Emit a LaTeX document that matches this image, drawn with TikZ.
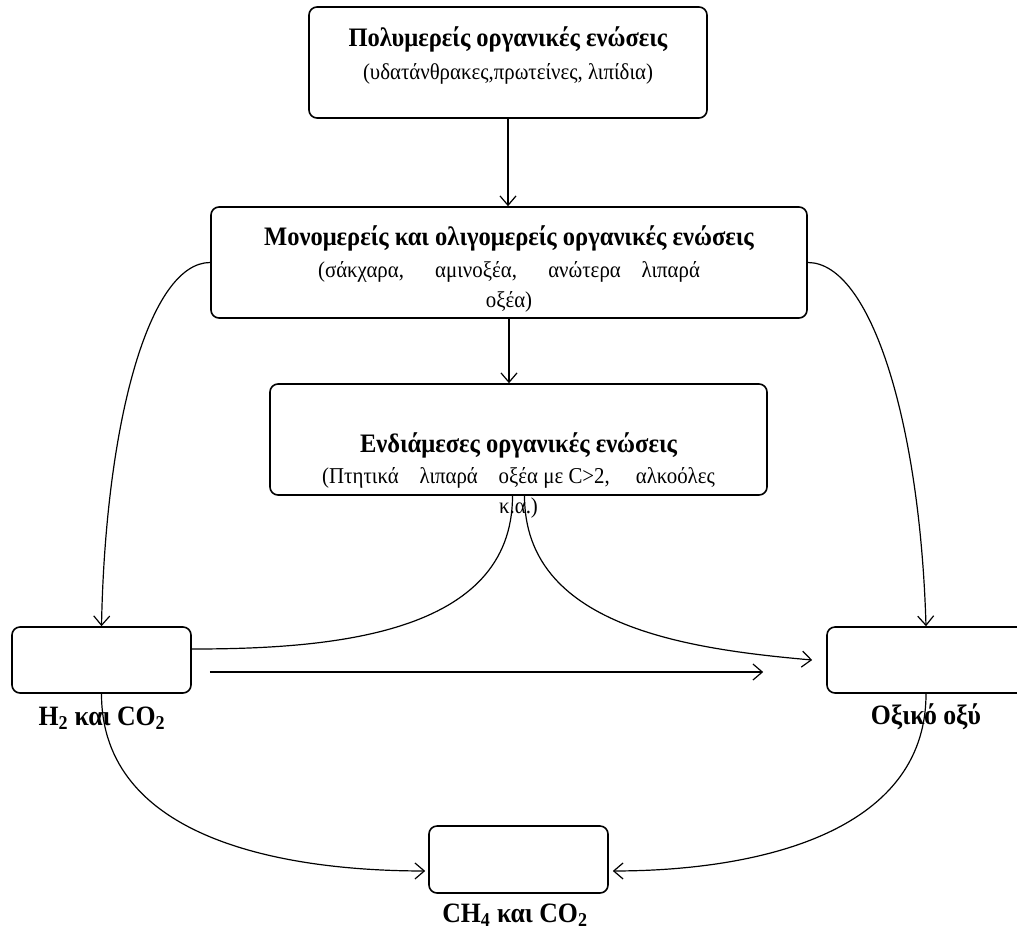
\documentclass[tikz,border=0pt]{standalone}
\usepackage{fontspec}
\setmainfont{Liberation Serif}[FakeStretch=0.92]
\usetikzlibrary{arrows.meta}

\begin{document}
\begin{tikzpicture}[x=0.75pt,y=-0.75pt,
	box/.style={draw=black,rounded corners=6pt,line width=1.2pt},
	tip/.style={-{Straight Barb[length=7pt,width=12pt,line width=0.9pt]}},
	title/.style={font=\fontsize{20}{24}\selectfont\bfseries},
	sub/.style={font=\fontsize{17}{22.5}\selectfont,align=center},
	lbl/.style={font=\fontsize{21}{24}\selectfont\bfseries}]
					\tikzstyle{every node}+=[inner sep=0pt]
					\useasboundingbox (0,0) rectangle (1017,929);
					\node [box,minimum width=298.5pt,minimum height=83.25pt] (poly) at (508,62.5) {};
					\node [title] (polyT) at (508,39) {Πολυμερείς οργανικές ενώσεις};
					\node [sub] (polyS) at (508,74) {(υδατάνθρακες,πρωτείνες, λιπίδια)};
					\node [box,minimum width=447pt,minimum height=83.25pt] (mono) at (509,262.5) {};
					\node [title] (monoT) at (509,238) {Μονομερείς και ολιγομερείς οργανικές ενώσεις};
					\node [sub] (monoS) at (509,287) {(σάκχαρα,~~~~~ αμινοξέα,~~~~~ ανώτερα~~~ λιπαρά\\οξέα)};
					\node [box,minimum width=372.75pt,minimum height=83.25pt] (inter) at (518.5,439.5) {};
					\node [title] (interT) at (518.5,445) {Ενδιάμεσες οργανικές ενώσεις};
					\node [sub] (interS) at (518.5,492.5) {(Πτητικά~~~ λιπαρά~~~ οξέα με C>2,~~~~ αλκοόλες\\κ.α.)};
					\node [box,minimum width=134.25pt,minimum height=49.5pt] (htwo) at (101.5,660) {};
					\node [lbl] (htwoL) at (102,718) {H\textsubscript{2} και CO\textsubscript{2}};
					\node [box,minimum width=148.5pt,minimum height=49.5pt] (acid) at (926,660) {};
					\node [lbl] (acidL) at (926,717) {Οξικό οξύ};
					\node [box,minimum width=134.25pt,minimum height=50.25pt] (meth) at (518.5,859.5) {};
					\node [lbl] (methL) at (515,915) {CH\textsubscript{4} και CO\textsubscript{2}};
					\coordinate (hfrom) at ([xshift=13.5pt,yshift=-9pt]htwo.east);
					\coordinate (hto) at ([xshift=-47.25pt,yshift=-9pt]acid.west);
					\draw [black,line width=0.9pt,tip] (poly.south) -- (poly.south |- mono.north);
					\draw [black,line width=0.9pt,tip] (mono.south) -- (mono.south |- inter.north);
					\draw [black,line width=0.9pt,tip] (mono.west) .. controls +(-61,0) and +(4,-204) .. (htwo.north);
					\draw [black,line width=0.9pt,tip] (mono.east) .. controls +(63,0) and +(-6,-204) .. (acid.north);
					\draw [black,line width=0.9pt] ([xshift=-4.5pt]inter.south) to [out=-90,in=0] ([yshift=8.25pt]htwo.east);
					\draw [black,line width=0.9pt,tip] ([xshift=4.5pt]inter.south) to [out=-90,in=175] ([xshift=-10.5pt]acid.west);
					\draw [black,line width=0.9pt,tip] (hfrom) -- (hto);
					\draw [black,line width=0.9pt,tip] (htwo.south) to [out=-90,in=180] ([xshift=-2.25pt,yshift=-8.6pt]meth.west);
					\draw [black,line width=0.9pt,tip] (acid.south) to [out=-90,in=0] ([xshift=3pt,yshift=-8.6pt]meth.east);
\end{tikzpicture}
\end{document}
